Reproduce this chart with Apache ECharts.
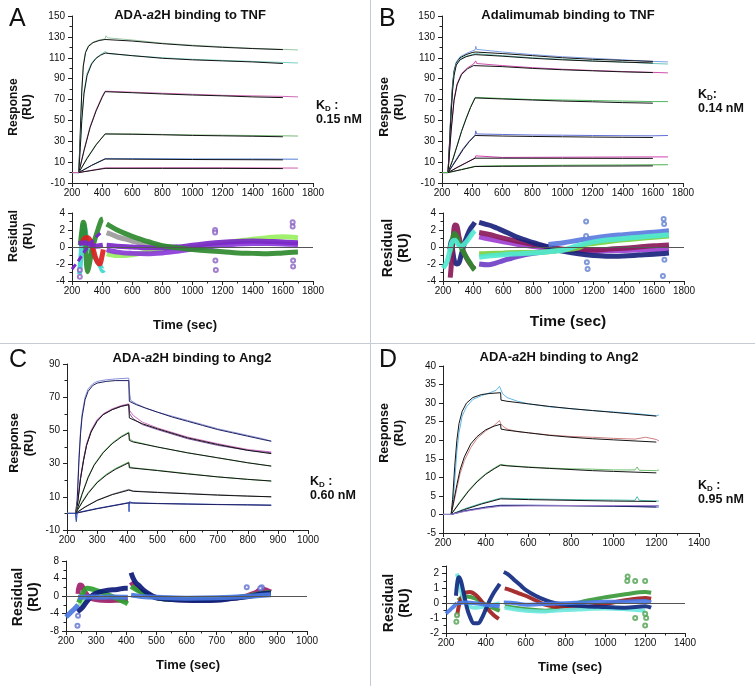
<!DOCTYPE html>
<html><head><meta charset="utf-8">
<script src="https://cdn.jsdelivr.net/npm/echarts@6/dist/echarts.min.js"></script>
<style>html,body{margin:0;padding:0;background:#fff}#c{width:755px;height:686px}</style>
</head><body><div id="c"></div><script>
// ---------- Panel A: ADA-a2H binding to TNF (sensorgram) ----------
var A1_data=[[200,0],[245,0],[255,40],[265,80],[275,103],[290,116],[310,122],[340,125],[380,127],[420,128],[425,131],[440,129],[600,127],[800,124],[1000,122],[1200,120.5],[1400,119],[1600,118],[1700,117.5]];
var A1_fit=[[245,0],[255,38],[265,78],[275,102],[290,115],[310,121],[340,124.5],[380,126.5],[420,127.5],[600,126],[800,123.5],[1000,121.5],[1200,120],[1400,118.8],[1600,117.8]];
var A2_data=[[200,0],[245,0],[255,25],[265,52],[280,78],[300,95],[330,105],[360,110],[390,113],[420,116],[425,117],[440,114],[600,112],[800,110],[1000,108.5],[1200,107.5],[1400,106.5],[1600,105.5],[1700,105]];
var A2_fit=[[245,0],[255,24],[265,50],[280,76],[300,93],[330,104],[360,109.5],[390,112.5],[420,114.5],[600,112],[800,109.5],[1000,108],[1200,107],[1400,106],[1600,104.5]];
var A3_data=[[200,0],[245,0],[280,22],[320,44],[360,60],[400,73],[420,78],[600,77],[800,76],[1000,75],[1200,74],[1400,73.5],[1600,73],[1700,72.5]];
var A3_fit=[[245,0],[280,21],[320,43],[360,59],[400,72],[420,77.5],[600,76.5],[800,75.3],[1000,74.3],[1200,73.5],[1400,72.5],[1600,71.8]];
var A4_data=[[200,0],[245,0],[300,14],[360,27],[420,37],[600,37],[800,36.5],[1000,36],[1200,35.8],[1400,35.5],[1600,35.2],[1700,35]];
var A4_fit=[[245,0],[300,13.5],[360,26.5],[420,37],[600,36.7],[800,36.2],[1000,35.6],[1200,35.2],[1400,34.8],[1600,34.3]];
var A5_data=[[200,0],[245,0],[330,7],[420,13.3],[600,13.3],[1000,13],[1400,13],[1700,12.8]];
var A5_fit=[[245,0],[330,6.8],[420,13],[600,12.8],[1000,12.5],[1400,12.3],[1600,12.2]];
var A6_data=[[200,0],[245,0],[420,4.5],[800,4.6],[1200,4.6],[1700,4.3]];
var A6_fit=[[245,0],[420,4],[800,4],[1200,4],[1600,3.8]];
// ---------- Panel A residuals ----------
var rA_diag=[[200,-2.6],[240,-1.7],[280,-0.6],[320,0.4],[360,1.2],[405,1.9]];
var rA_green1=[[255,0.2],[265,1.8],[275,2.9],[283,2.5],[290,0.5],[297,-2.2],[303,-2.9],[312,-2.3],[330,-0.6],[350,0.8],[375,2.2],[395,3.2],[405,3.3]];
var rA_green2=[[430,2.7],[460,2.4],[500,2.0],[550,1.6],[600,1.25],[650,0.95],[700,0.65],[750,0.4],[800,0.15],[900,-0.1],[1000,-0.3],[1100,-0.45],[1200,-0.55],[1300,-0.7],[1400,-0.75],[1500,-0.8],[1600,-0.7],[1700,-0.6]];
var rA_lgreen=[[430,-0.8],[500,-1.0],[600,-0.9],[700,-0.6],[800,-0.3],[900,-0.1],[1000,0],[1100,0.2],[1200,0.4],[1300,0.7],[1400,0.9],[1500,1.1],[1600,1.2],[1700,1.1]];
var rA_cyan=[[250,-3.2],[262,-0.5],[275,2.6],[285,2.2],[300,0.8],[330,-0.6],[360,-1.4],[390,-2.3],[405,-2.8],[410,-2.7]];
var rA_red=[[262,0.3],[275,0.8],[290,1.1],[305,1.1],[320,0.8],[340,-0.2],[355,-1.2],[370,-1.8],[385,-2],[398,-1.2],[408,-0.3]];
var rA_gray=[[430,1.7],[460,1.5],[500,1.2],[550,0.95],[600,0.7],[650,0.5],[700,0.3],[800,0.1],[900,0]];
var rA_purple1=[[245,0.4],[280,0.5],[320,0.3],[360,0.1],[405,0.2]];
var rA_purple2=[[430,-0.3],[500,-0.6],[600,-0.75],[700,-0.8],[800,-0.7],[900,-0.5],[1000,-0.25],[1100,0],[1200,0.2],[1300,0.35],[1400,0.4],[1500,0.4],[1600,0.35],[1700,0.3]];
var rA_purple3=[[430,0.2],[500,0.1],[600,0],[700,-0.1],[800,-0.1],[900,0],[1000,0.2],[1100,0.4],[1200,0.55],[1300,0.65],[1400,0.7],[1500,0.65],[1600,0.6],[1700,0.5]];
var rA_out=[[1150,2.0],[1150,1.7],[1152,-1.6],[1155,-2.7],[1665,2.9],[1665,2.4],[1668,-1.6],[1668,-2.3],[252,-3.5],[252,-2.7]];

// ---------- Panel B: Adalimumab binding to TNF ----------
var B1_data=[[200,0],[240,0],[250,30],[260,62],[270,85],[280,98],[295,106],[320,111],[360,114],[400,116.5],[420,117.5],[424,121],[430,118],[600,115.5],[800,113],[1000,111],[1200,109.5],[1400,108],[1600,106.5],[1700,106]];
var B1_fit=[[240,0],[250,29],[260,60],[270,83],[280,97],[295,105],[320,110],[360,113],[400,115],[420,115.5],[600,114],[800,112],[1000,110],[1200,108.5],[1400,107.5],[1600,106.5]];
var B2_data=[[200,0],[240,0],[250,27],[260,57],[270,80],[280,95],[295,104],[320,109],[360,111.5],[400,113],[420,114],[600,112],[800,110],[1000,108.5],[1200,107],[1400,106],[1600,104.5],[1700,104]];
var B2_fit=[[240,0],[250,26],[260,55],[270,78],[280,93],[295,103],[320,108],[360,111],[400,112.5],[420,113],[600,111.5],[800,109.5],[1000,108],[1200,106.8],[1400,105.8],[1600,105]];
var B3_data=[[200,0],[240,0],[260,40],[280,70],[300,85],[330,95],[370,100.5],[410,104],[420,105],[424,107],[430,104.5],[600,102.5],[800,100.5],[1000,99],[1200,97.8],[1400,96.8],[1600,96],[1700,95.5]];
var B3_fit=[[240,0],[260,39],[280,69],[300,84],[330,94],[370,99.5],[410,102.5],[420,103],[600,101.5],[800,99.8],[1000,98.5],[1200,97.5],[1400,96.5],[1600,95.8]];
var B4_data=[[200,0],[240,0],[270,12],[300,26],[330,40],[360,52],[390,63],[420,72],[600,71],[800,70],[1000,69.5],[1200,69],[1400,68.5],[1600,68],[1700,68]];
var B4_fit=[[240,0],[270,11.5],[300,25.5],[330,39.5],[360,51.5],[390,62.5],[420,71.5],[600,70.5],[800,69.5],[1000,68.5],[1200,67.8],[1400,67],[1600,66.5]];
var B5_data=[[200,0],[240,0],[270,7],[300,14],[340,23],[380,30],[420,36],[424,40],[430,37],[600,36.5],[800,36],[1000,35.8],[1200,35.5],[1400,35.3],[1600,35.2],[1700,35.5]];
var B5_fit=[[240,0],[270,6.5],[300,13],[340,22],[380,29.5],[420,35.5],[600,35],[800,34.6],[1000,34.3],[1200,34],[1400,33.8],[1600,33.6]];
var B6_data=[[200,0],[240,0],[300,5],[360,9.5],[420,14],[424,16],[600,14.5],[800,14.6],[1000,14.7],[1200,14.8],[1400,14.9],[1600,15],[1700,15]];
var B6_fit=[[240,0],[300,4.8],[360,9.3],[420,13.8],[600,13.8],[1000,13.7],[1400,13.6],[1600,13.6]];
var B7_data=[[200,0],[240,0],[330,3],[420,6],[600,6.5],[1000,7],[1400,7.3],[1700,7.5]];
var B7_fit=[[240,0],[330,2.8],[420,5.8],[600,6],[1000,6.2],[1400,6.3],[1600,6.4]];
// ---------- Panel B residuals ----------
var rB_navy1=[[245,-0.3],[255,0.8],[265,-0.5],[275,-1.6],[290,-2.0],[305,-1.9],[320,-1.0],[340,0.3],[360,1.3],[380,2.1],[400,2.6],[412,2.9]];
var rB_navy2=[[440,2.9],[480,2.7],[520,2.5],[560,2.2],[600,1.9],[650,1.5],[700,1.1],[750,0.8],[800,0.5],[850,0.25],[900,0],[950,-0.3],[1000,-0.5],[1100,-0.8],[1200,-1.0],[1300,-1.1],[1400,-1.05],[1500,-0.95],[1600,-0.85],[1700,-0.7]];
var rB_maroon1=[[248,-3.6],[258,-1.5],[268,1.2],[280,2.6],[292,2.5],[305,1.3],[320,0.2],[340,-0.7],[360,-1.4],[385,-2.1],[405,-2.5],[412,-2.6]];
var rB_maroon2=[[440,1.7],[500,1.5],[600,1.05],[700,0.65],[800,0.3],[900,0],[1000,-0.25],[1100,-0.35],[1200,-0.35],[1300,-0.25],[1400,-0.15],[1500,0],[1600,0.15],[1700,0.25]];
var rB_violet=[[440,1.2],[500,0.95],[600,0.6],[700,0.3],[800,0.05],[900,-0.2],[1000,-0.35],[1100,-0.45],[1200,-0.5],[1300,-0.45],[1400,-0.4],[1500,-0.35],[1600,-0.3],[1700,-0.2]];
var rB_low=[[440,-2.0],[500,-2.1],[550,-1.9],[600,-1.6],[650,-1.35],[700,-1.1],[800,-0.75],[900,-0.5],[1000,-0.35]];
var rB_green1=[[250,-0.6],[262,0.8],[275,1.6],[290,1.3],[310,0.4],[330,-0.4],[355,-1.2],[380,-1.9],[400,-2.5],[410,-2.7]];
var rB_green2=[[440,-0.8],[500,-0.75],[600,-0.7],[700,-0.65],[800,-0.65],[900,-0.55],[1000,-0.35],[1100,-0.1],[1150,0.3],[1200,0.4],[1300,0.65],[1400,0.85],[1500,1.0],[1600,1.15],[1700,1.3]];
var rB_cyan1=[[200,-2.5],[225,-1.8],[245,-0.5],[260,0.6],[280,0.8],[300,0.3],[320,0.1],[350,0.5],[380,1.2],[400,1.7],[412,1.9]];
var rB_cyan2=[[440,-1.2],[500,-1.05],[600,-0.9],[700,-0.8],[800,-0.7],[900,-0.55],[1000,-0.35],[1100,0.2],[1200,0.6],[1300,0.85],[1400,1.0],[1500,1.15],[1600,1.3],[1700,1.45]];
var rB_blue=[[900,0.3],[1000,0.5],[1100,0.8],[1200,1.05],[1300,1.3],[1400,1.45],[1500,1.6],[1600,1.75],[1700,1.9]];
var rB_out=[[1150,3.0],[1155,-1.8],[1160,-2.6],[1665,3.3],[1668,2.7],[1670,-1.5],[1660,-3.4],[1150,1.3]];

// ---------- Panel C: ADA-a2H binding to Ang2 ----------
var C1_data=[[200,0],[228,0],[231,-4],[234,10],[240,35],[245,50],[250,60],[260,70],[270,75],[285,78],[300,79.5],[330,80.5],[360,81],[405,81.5],[408,72],[412,68],[430,66],[460,63.5],[500,61],[550,58.5],[600,56],[650,53.5],[700,51],[750,49],[800,47],[850,45],[878,43.5]];
var C1_fit=[[228,0],[234,8],[240,33],[245,48],[250,58],[260,68.5],[270,73.5],[285,77],[300,78.5],[330,79.5],[360,80],[405,80],[407,67.5],[430,65.5],[460,63.5],[500,61],[550,58],[600,55.5],[650,53],[700,50.5],[750,48.5],[800,46.5],[850,44.5],[878,43.5]];
var C2_data=[[200,0],[228,0],[234,5],[245,22],[255,33],[265,42],[280,50],[300,56.5],[320,60],[350,63],[380,65],[405,66],[408,62],[420,59],[450,55],[500,51.5],[600,46],[700,42],[800,38.5],[878,37]];
var C2b_data=[[200,0],[228,0],[234,5],[245,21],[255,32],[265,41],[280,49.5],[300,56],[320,59.5],[350,62.5],[380,64.5],[405,65.5],[408,60],[420,57],[450,53.5],[500,50.5],[600,45],[700,41],[800,38],[878,36.5]];
var C2_fit=[[228,0],[234,4],[245,21],[255,32],[265,41],[280,49],[300,55.5],[320,59.5],[350,62.5],[380,64.5],[405,65.5],[407,57.5],[450,54],[500,51],[600,45.5],[700,41.5],[800,38],[878,36]];
var C3_data=[[200,0],[228,0],[234,3],[250,12],[270,22],[290,29.5],[320,37],[350,42.5],[380,46.5],[405,49],[408,45],[420,43.5],[500,40],[600,36.5],[700,33.5],[800,30.5],[878,28.5]];
var C3_fit=[[228,0],[234,2.5],[250,11.5],[270,21.5],[290,29],[320,36.5],[350,42],[380,46],[405,48.5],[407,44],[420,43],[500,40],[600,36.5],[700,33.5],[800,30.5],[878,28.5]];
var C4_data=[[200,0],[228,0],[250,7],[270,12.5],[300,19],[330,23.5],[360,27],[405,31],[408,28],[420,27.5],[500,26],[600,24],[700,22],[800,20.5],[878,19.5]];
var C4_fit=[[228,0],[250,6.5],[270,12],[300,18.5],[330,23],[360,26.5],[405,30.5],[407,27.5],[500,25.8],[600,23.8],[700,22],[800,20.5],[878,19.5]];
var C5_data=[[200,0],[228,0],[260,4],[300,8],[350,11.5],[405,14.5],[420,13.5],[500,12.8],[600,12],[700,11.2],[800,10.5],[878,10]];
var C5_fit=[[228,0],[260,3.8],[300,7.8],[350,11.3],[405,14],[420,13.3],[500,12.6],[600,11.8],[700,11],[800,10.4],[878,10]];
var C6_data=[[200,0],[228,0],[231,-5],[234,0.5],[300,3],[405,6.5],[406,1],[407,7],[420,6.3],[500,6],[600,5.7],[700,5.4],[800,5.2],[878,5]];
var C6_fit=[[228,0],[300,2.8],[405,6.3],[500,5.9],[600,5.6],[700,5.3],[800,5.1],[878,4.9]];
// ---------- Panel C residuals ----------
var rC_diag=[[200,-4.8],[215,-3.8],[230,-2.8],[240,-2.0]];
var rC_navy1=[[238,-3.6],[245,-3.2],[255,-2.6],[270,-1.2],[290,0.3],[310,0.9],[340,1.3],[370,1.5],[395,1.8],[405,1.8]];
var rC_navy2=[[416,5.3],[422,4.2],[430,3.2],[445,2.2],[460,1.2],[480,0.3],[500,-0.4],[550,-0.8],[600,-1.0],[650,-1.05],[700,-1.0],[750,-0.6],[800,-0.2],[850,0.5],[880,0.7]];
var rC_maroon1=[[240,0.5],[245,2.5],[252,2.4],[262,1.0],[280,-0.4],[310,-0.9],[350,-1.0],[390,-0.9],[405,-0.8]];
var rC_maroon2=[[416,3.2],[430,2.0],[450,1.0],[480,0.1],[520,-0.6],[600,-0.9],[700,-0.8],[780,-0.3],[830,0.8],[850,1.6],[870,1.2],[880,0.9]];
var rC_green1=[[242,-1.5],[255,0.5],[270,1.8],[290,1.5],[320,0.8],[350,0],[380,-0.9],[400,-1.6],[405,-1.8]];
var rC_green2=[[416,2.2],[440,1.2],[470,0.3],[500,-0.4],[550,-0.8],[600,-0.8],[700,-0.7],[800,-0.1],[850,0.6],[880,0.8]];
var rC_lgreen=[[245,-2.2],[260,-0.8],[280,-0.3],[320,-0.6],[360,-0.8],[405,-1.2]];
var rC_blue1=[[240,-0.3],[280,-0.2],[320,-0.3],[360,-0.2],[405,-0.3]];
var rC_blue2=[[416,0.2],[450,-0.1],[500,-0.3],[600,-0.5],[700,-0.4],[800,-0.1],[880,0.3]];
var rC_out=[[238,-6.8],[240,-4.5],[800,2.0],[850,2.0],[845,1.8]];

// ---------- Panel D: ADA-a2H binding to Ang2 ----------
var D1_data=[[200,0],[238,0],[245,2],[255,9],[265,17],[275,22],[290,26.5],[310,29],[340,31],[380,32],[420,32.8],[450,33.5],[465,34.5],[470,33.8],[480,32.5],[500,31.5],[550,30.5],[600,29.8],[700,29],[800,28.5],[900,28],[1000,27.6],[1100,27.2],[1200,26.6],[1212,26.8]];
var D1_fit=[[238,0],[245,4],[255,13],[265,20],[275,24.5],[290,27.8],[310,30],[340,31.5],[380,32.3],[420,32.6],[470,32.8],[472,30.8],[500,30.5],[600,29.8],[700,29.1],[800,28.5],[900,28],[1000,27.5],[1100,27],[1200,26.5]];
var D2_data=[[200,0],[238,0],[250,3],[265,7],[280,11],[300,14.5],[330,18],[360,20.5],[400,22.5],[440,24],[465,25.3],[470,24.5],[480,23.8],[500,23],[550,22.3],[600,22],[700,21.4],[800,21],[900,20.8],[1000,20.5],[1100,20.3],[1150,20.8],[1200,20.2],[1212,19.8]];
var D2_fit=[[238,0],[250,3.5],[265,8],[280,12],[300,15.5],[330,19],[360,21],[400,22.8],[440,23.8],[470,24.3],[472,23],[500,22.7],[600,22],[700,21.3],[800,20.8],[900,20.4],[1000,20.1],[1100,19.8],[1200,19.5]];
var D3_data=[[200,0],[238,0],[280,3.5],[320,6.5],[360,9],[400,11],[440,12.5],[470,13.5],[500,13.2],[600,12.8],[700,12.5],[800,12.3],[900,12.2],[1000,12],[1100,12],[1110,12.8],[1120,11.9],[1200,11.8],[1212,12]];
var D3_fit=[[238,0],[280,3.3],[320,6.3],[360,8.8],[400,10.8],[440,12.3],[470,13.3],[500,13.1],[600,12.7],[700,12.4],[800,12.1],[900,11.8],[1000,11.6],[1100,11.4],[1200,11.2]];
var D4_data=[[200,0],[238,0],[300,1.5],[380,3],[470,4.4],[600,4.2],[800,4],[1000,3.9],[1100,3.8],[1110,4.8],[1120,3.8],[1212,3.6]];
var D4_fit=[[238,0],[300,1.3],[380,2.8],[470,4.2],[600,4],[800,3.8],[1000,3.6],[1200,3.5]];
var D5_data=[[200,0],[238,0],[300,1],[400,2],[470,2.5],[600,2.5],[800,2.4],[1000,2.3],[1212,2]];
var D5_fit=[[238,0],[300,0.9],[400,1.9],[470,2.4],[600,2.4],[800,2.3],[1000,2.2],[1200,2]];
var D6_data=[[200,0],[238,0],[300,0.8],[400,1.7],[470,2.2],[600,2.3],[800,2.4],[1000,2.4],[1212,2.4]];
// ---------- Panel D residuals ----------
var rD_diag=[[200,-0.7],[220,-0.45],[240,-0.2],[255,0]];
var rD_navy1=[[250,0.5],[258,1.5],[265,1.75],[275,1.5],[290,0.6],[305,-0.3],[320,-0.9],[340,-1.35],[360,-1.35],[380,-1.0],[400,-0.4],[420,0.2],[440,0.7],[460,1.1],[470,1.3]];
var rD_navy2=[[490,2.1],[510,1.95],[540,1.6],[570,1.25],[600,0.9],[650,0.5],[700,0.2],[750,0],[800,-0.1],[900,-0.2],[1000,-0.25],[1100,-0.3],[1200,-0.2],[1230,-0.3]];
var rD_red1=[[255,-0.9],[270,0.1],[290,0.65],[320,0.75],[350,0.55],[380,0.1],[410,-0.4],[440,-0.8],[465,-1.05]];
var rD_red2=[[495,1.0],[520,0.9],[560,0.7],[600,0.5],[650,0.2],[700,-0.1],[800,-0.3],[900,-0.25],[1000,-0.05],[1100,0.2],[1200,0.35],[1230,0.3]];
var rD_green1=[[260,0.2],[300,0.45],[350,0.3],[400,-0.1],[450,-0.4],[470,-0.5]];
var rD_green2=[[495,-0.2],[600,-0.4],[700,-0.5],[800,-0.2],[900,0.15],[1000,0.4],[1100,0.6],[1200,0.75],[1230,0.7]];
var rD_cyan1=[[255,2.0],[262,1.6],[280,0.6],[300,0],[340,-0.3],[400,-0.2],[470,0]];
var rD_cyan2=[[495,-0.3],[600,-0.5],[700,-0.55],[800,-0.45],[900,-0.4],[1000,-0.35],[1100,-0.4],[1200,-0.5]];
var rD_blue1=[[255,0],[300,0.05],[350,0],[400,-0.1],[470,-0.2]];
var rD_blue2=[[490,0.05],[550,0],[600,-0.1],[700,-0.05],[800,0],[900,0.05],[1000,0.1],[1100,0.1],[1200,0.15],[1230,0.05]];
var rD_out=[[1110,1.5],[1112,1.8],[1150,1.5],[1150,-1.0],[1200,1.5],[1200,-1.5],[1205,-1.0],[252,-1.25],[255,-0.8],[1200,-0.7]];

// ---------- Texts ----------
var panelLetters=['A','B','C','D'];
var kdValues=['0.15 nM','0.14 nM','0.60 nM','0.95 nM'];
var xName='Time (sec)';

var FONT="'Liberation Sans', Arial, Helvetica, sans-serif";
var chart=echarts.init(document.getElementById('c'),null,{renderer:'canvas'});

var grids=[
 {left:72,top:16,width:241,height:167},
 {left:72,top:213,width:241,height:68},
 {left:442,top:16,width:241,height:167},
 {left:443,top:213,width:241,height:68},
 {left:67,top:364,width:241,height:166},
 {left:66,top:561,width:241,height:70},
 {left:443,top:366,width:256,height:167},
 {left:446,top:566,width:239,height:67}
];
function ax(gi,min,max,interval,isY,minorSplit,extraLabel){
  var o={type:'value',gridIndex:gi,min:min,max:max,interval:interval,
    axisLine:{show:true,onZero:false,lineStyle:{color:'#222',width:1}},
    axisTick:{show:true,length:4,lineStyle:{color:'#222',width:1}},
    minorTick:{show:minorSplit>0,splitNumber:minorSplit||2,length:2.5,lineStyle:{color:'#222',width:1}},
    splitLine:{show:false},minorSplitLine:{show:false},
    axisLabel:Object.assign({color:'#111',fontSize:10,fontFamily:FONT,margin:isY?7:5,
      formatter:function(v){return String(v);}},extraLabel||{})};
  return o;
}
var xAxes=[ax(0,200,1800,200,false,2),ax(1,200,1800,200,false,2),ax(2,200,1800,200,false,2),ax(3,200,1800,200,false,2),
  ax(4,200,1000,100,false,2),ax(5,200,1000,100,false,2),ax(6,200,1400,200,false,2),ax(7,200,1400,200,false,2)];
var yAxes=[ax(0,-10,150,20,true,2),ax(1,-4,4,2,true,2),ax(2,-10,150,20,true,2),ax(3,-4,4,2,true,2),
  ax(4,-10,90,20,true,2),ax(5,-8,8,4,true,2),ax(6,-5,40,5,true,0),ax(7,-2,2.5,1,true,2,{showMaxLabel:false})];

var series=[];
function ln(gi,data,color,width,extra){
  var s={type:'line',xAxisIndex:gi,yAxisIndex:gi,data:data,showSymbol:false,symbol:'none',
    lineStyle:{color:color,width:width},itemStyle:{color:color},animation:false,silent:true,z:2};
  if(width>2){s.smooth=0.35;s.lineStyle.opacity=0.92;}
  if(extra)Object.assign(s,extra);
  series.push(s);return s;
}
function dots(gi,data,color){
  series.push({type:'scatter',xAxisIndex:gi,yAxisIndex:gi,data:data,symbol:'emptyCircle',symbolSize:4,
    itemStyle:{color:color,borderColor:color,borderWidth:1},animation:false,silent:true,z:3});
}
function zero(gi){
  series.push({type:'line',xAxisIndex:gi,yAxisIndex:gi,data:[],animation:false,silent:true,z:6,
    markLine:{silent:true,symbol:['none','none'],label:{show:false},animation:false,
      lineStyle:{color:'#555',width:1,type:'solid'},data:[{yAxis:0}]}});
}
var FIT='#151515';
// A main
ln(0,A1_data,'#9ac8a4',1);ln(0,A1_fit,FIT,1);
ln(0,A2_data,'#78d0c4',1);ln(0,A2_fit,FIT,1);
ln(0,A3_data,'#d068b4',1);ln(0,A3_fit,FIT,1);
ln(0,A4_data,'#78b878',1);ln(0,A4_fit,FIT,1);
ln(0,A5_data,'#5080d8',1);ln(0,A5_fit,FIT,1);
ln(0,A6_data,'#d060b0',1);ln(0,A6_fit,FIT,1);
// A residual
var RW=5;
ln(1,rA_lgreen,'#9af060',RW);
ln(1,rA_gray,'#9a9a9a',RW);
ln(1,rA_purple2,'#8a3ad8',RW);
ln(1,rA_purple3,'#7a28c8',RW);
ln(1,rA_green2,'#2f8a2f',RW);
ln(1,rA_cyan,'#40d8d0',RW);
ln(1,rA_green1,'#2f8a2f',RW);
ln(1,rA_red,'#e02020',RW);
ln(1,rA_purple1,'#7a28c8',RW);
ln(1,rA_diag,'#7a28c8',3,{smooth:false,lineStyle:{color:'#7a28c8',width:3,type:[6,4]}});
dots(1,rA_out,'#8a60c0');
zero(1);
// B main
ln(2,B1_data,'#7f9fe4',1);ln(2,B1_fit,FIT,1);
ln(2,B2_data,'#6cc6b8',1);ln(2,B2_fit,FIT,1);
ln(2,B3_data,'#d050b0',1);ln(2,B3_fit,FIT,1);
ln(2,B4_data,'#50b860',1);ln(2,B4_fit,FIT,1);
ln(2,B5_data,'#6070d8',1);ln(2,B5_fit,FIT,1);
ln(2,B6_data,'#d040b0',1);ln(2,B6_fit,FIT,1);
ln(2,B7_data,'#50b050',1);ln(2,B7_fit,FIT,1);
// B residual
ln(3,rB_low,'#7040c8',RW);
ln(3,rB_violet,'#a040d0',RW);
ln(3,rB_maroon2,'#8b1a5a',RW);
ln(3,rB_navy2,'#1a237e',RW);
ln(3,rB_blue,'#5b7be0',RW);
ln(3,rB_green2,'#7ad040',RW);
ln(3,rB_cyan2,'#50e8d0',RW);
ln(3,rB_navy1,'#1a237e',RW);
ln(3,rB_maroon1,'#8b1a5a',RW);
ln(3,rB_green1,'#2f8a2f',RW);
ln(3,rB_cyan1,'#50e8d0',RW);
dots(3,rB_out,'#6080d0');
zero(3);
// C main
ln(4,C1_data,'#8a92d8',1);ln(4,C1_fit,'#202060',1);
ln(4,C2_data,'#d070c0',1);ln(4,C2b_data,'#8050a0',1);ln(4,C2_fit,FIT,1);
ln(4,C3_data,'#7cc87c',1);ln(4,C3_fit,FIT,1);
ln(4,C4_data,'#70c070',1);ln(4,C4_fit,FIT,1);
ln(4,C5_data,'#9090a0',1);ln(4,C5_fit,FIT,1);
ln(4,C6_data,'#3050c0',1);ln(4,C6_fit,'#202060',1);
// C residual
ln(5,rC_lgreen,'#90e890',RW);
ln(5,rC_maroon1,'#a0206a',RW);
ln(5,rC_maroon2,'#a0206a',RW);
ln(5,rC_green1,'#2fa02f',RW);
ln(5,rC_green2,'#2fa02f',RW);
ln(5,rC_navy1,'#0d1a7a',RW);
ln(5,rC_navy2,'#0d1a7a',RW);
ln(5,rC_blue1,'#4a78e0',RW);
ln(5,rC_blue2,'#4a78e0',RW);
ln(5,rC_diag,'#4a78e0',RW);
dots(5,rC_out,'#6070d0');
zero(5);
// D main
ln(6,D1_data,'#60b8e8',1);ln(6,D1_fit,FIT,1);
ln(6,D2_data,'#d08080',1);ln(6,D2_fit,FIT,1);
ln(6,D3_data,'#70c070',1);ln(6,D3_fit,FIT,1);
ln(6,D4_data,'#50c0b0',1);ln(6,D4_fit,FIT,1);
ln(6,D5_data,'#4060c0',1);ln(6,D5_fit,'#202060',1);
ln(6,D6_data,'#a080d0',1);
// D residual
var RWD=4;
ln(7,rD_green1,'#3a9a3a',RWD);
ln(7,rD_green2,'#3a9a3a',RWD);
ln(7,rD_red1,'#a02020',RWD);
ln(7,rD_red2,'#a02020',RWD);
ln(7,rD_cyan1,'#70e8e0',RWD);
ln(7,rD_cyan2,'#70e8e0',RWD);
ln(7,rD_navy1,'#102a80',RWD);
ln(7,rD_navy2,'#102a80',RWD);
ln(7,rD_blue1,'#4a7ae8',RWD);
ln(7,rD_blue2,'#4a7ae8',RWD);
ln(7,rD_diag,'#4a7ae8',RWD);
dots(7,rD_out,'#50a050');
zero(7);

// graphics
var g=[];
g.push({type:'line',shape:{x1:370.5,y1:0,x2:370.5,y2:686},style:{stroke:'#c5ccd3',lineWidth:1},silent:true});
g.push({type:'line',shape:{x1:0,y1:343.5,x2:755,y2:343.5},style:{stroke:'#c5ccd3',lineWidth:1},silent:true});
function txt(x,y,text,size,opt){
  var st=Object.assign({text:text,x:0,y:0,fill:'#111',font:(opt&&opt.weight||'bold')+' '+size+'px '+FONT,
    textAlign:(opt&&opt.align)||'center',textVerticalAlign:'middle'},(opt&&opt.style)||{});
  var el={type:'text',x:x,y:y,style:st,silent:true,z:100};
  if(opt&&opt.rot)el.rotation=opt.rot;
  g.push(el);
}
var letterPos=[[9,19],[379,19],[9,360],[379,360]];
letterPos.forEach(function(p,i){txt(p[0],p[1],panelLetters[i],25,{weight:'normal',align:'left'});});
function titleRich(x,y,parts){
  g.push({type:'text',x:x,y:y,silent:true,z:100,style:{text:parts,textAlign:'center',textVerticalAlign:'middle',
   rich:{b:{fontFamily:FONT,fontWeight:'bold',fontSize:13,fill:'#111',color:'#111'},
         i:{fontFamily:FONT,fontWeight:'bold',fontStyle:'italic',fontSize:13,fill:'#111',color:'#111'}}}});
}
titleRich(190,15,'{b|ADA-}{i|a}{b|2H binding to TNF}');
txt(568,15,'Adalimumab binding to TNF',13);
titleRich(192,358,'{b|ADA-}{i|a}{b|2H binding to Ang2}');
titleRich(559,357,'{b|ADA-}{i|a}{b|2H binding to Ang2}');
// y-axis names
function yname(x,y,t,size){txt(x,y,t,size,{rot:Math.PI/2,style:{lineHeight:size+2}});}
yname(21,107,'Response\n(RU)',12);
yname(21,236,'Residual\n(RU)',12.5);
yname(392,107,'Response\n(RU)',12.5);
yname(396,248,'Residual\n(RU)',14);
yname(22,443,'Response\n(RU)',12.5);
yname(26,597,'Residual\n(RU)',14);
yname(392,433,'Response\n(RU)',12.5);
yname(397,603,'Residual\n(RU)',14);
// x names
txt(185,325,xName,13);
txt(568,322,xName,15.5);
txt(188,665,xName,13);
txt(570,667,xName,13);
// KD
function kd(x,y,val,colon){
  g.push({type:'text',x:x,y:y,silent:true,z:100,style:{text:'{k|K}{s|D}{k|'+colon+'}\n{k|'+val+'}',textAlign:'left',textVerticalAlign:'top',
    rich:{k:{fontFamily:FONT,fontWeight:'bold',fontSize:12.5,fill:'#111',color:'#111',lineHeight:14},
          s:{fontFamily:FONT,fontWeight:'bold',fontSize:8,fill:'#111',color:'#111',verticalAlign:'bottom',lineHeight:14,padding:[5,0,0,0]}}}});
}
kd(316,99,kdValues[0],' :');
kd(698,88,kdValues[1],':');
kd(310,475,kdValues[2],' :');
kd(698,479,kdValues[3],' :');

chart.setOption({animation:false,backgroundColor:'#fff',grid:grids,xAxis:xAxes,yAxis:yAxes,series:series,graphic:{elements:g}});
</script></body></html>
